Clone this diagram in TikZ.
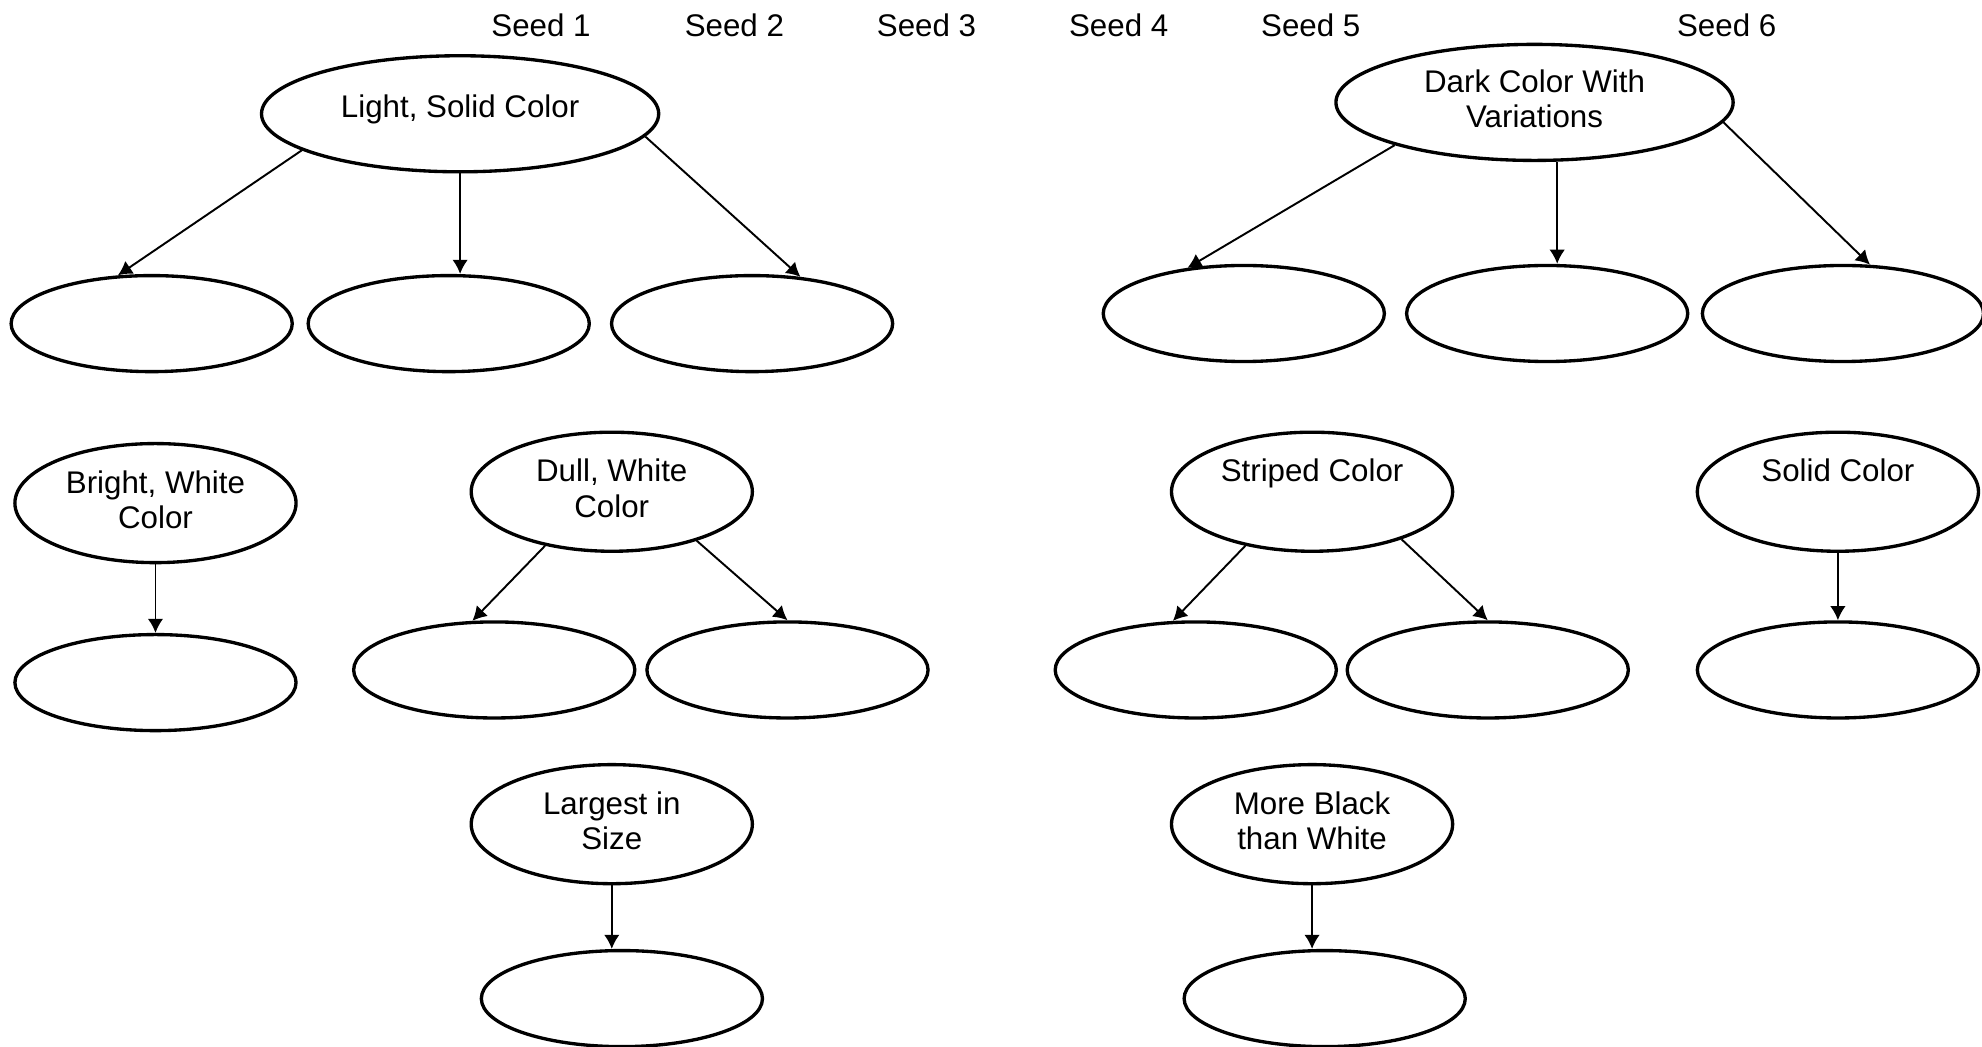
\documentclass[tikz,border=0pt]{standalone}
\usepackage{fontspec}
\setmainfont{Liberation Sans}
\usetikzlibrary{shapes.geometric, arrows.meta}

\begin{document}
\begin{tikzpicture}[x=0.01264cm, y=-0.01264cm, font=\fontsize{8.9}{10}\selectfont]

\tikzset{oval/.style = {shape=ellipse,draw,line width=0.95pt,inner sep=0pt,align=center,minimum width=2.81cm,minimum height=0.96cm}}
\tikzset{headoval/.style = {oval,text depth=2pt,minimum width=3.97cm,minimum height=1.16cm}}
\tikzset{midoval/.style = {oval,text depth=2pt,minimum height=1.19cm}}
\tikzset{link/.style = {->,> = {Latex[length=4pt,width=4.4pt]},line width=0.55pt}}

\useasboundingbox (0,0) rectangle (1568,828);
%seeds
\foreach \i/\x in {1/428,2/581,3/733,4/885,5/1037,6/1366}
  \node (seed\i) at (\x,20) {Seed \i};
%verticies
\node[headoval, text depth=4.4pt] (light) at (364,90) {Light, Solid Color};
\node[oval] (ls1) at (120,256) {};
\node[oval] (ls2) at (355,256) {};
\node[oval] (ls3) at (595,256) {};
\node[headoval] (dark) at (1214,81) {Dark Color With\\Variations};
\node[oval] (dc1) at (984,248) {};
\node[oval] (dc2) at (1224,248) {};
\node[oval] (dc3) at (1458,248) {};
\node[midoval] (bright) at (123,398) {Bright, White\\Color};
\node[oval] (bw1) at (123,540) {};
\node[midoval] (dull) at (484,389) {Dull, White\\Color};
\node[oval] (dw1) at (391,530) {};
\node[oval] (dw2) at (623,530) {};
\node[midoval] (largest) at (484,652) {Largest in\\Size};
\node[oval] (lg1) at (492,790) {};
\node[midoval] (striped) at (1038,389) {Striped Color\\\mbox{}};
\node[oval] (sc1) at (946,530) {};
\node[oval] (sc2) at (1177,530) {};
\node[midoval] (solid) at (1454,389) {Solid Color\\\mbox{}};
\node[oval] (so1) at (1454,530) {};
\node[midoval] (more) at (1038,652) {More Black\\than White};
\node[oval] (mb1) at (1048,790) {};
%edges
\draw[link] (light.193) -- (ls1.125);
\draw[link] (light.south) -- (light.south |- ls2.north);
\draw[link] (light.353) -- (ls3.44);
\draw[link] (dark.197) -- (dc1.141);
\draw[link] ([xshift=0.1cm]dc2.north |- dark.south) -- ([xshift=0.1cm]dc2.north);
\draw[link] (dark.354) -- (dc3.61);
\draw[link] (bright.south) -- (bw1.north);
\draw[link] (dull.219) -- (dw1.114);
\draw[link] (dull.330) -- (dw2.north);
\draw[link] (largest.south) -- (largest.south |- lg1.north);
\draw[link] (striped.219) -- (sc1.115);
\draw[link] (striped.332) -- (sc2.north);
\draw[link] (solid.south) -- (so1.north);
\draw[link] (more.south) -- (more.south |- mb1.north);

\end{tikzpicture}
\end{document}
